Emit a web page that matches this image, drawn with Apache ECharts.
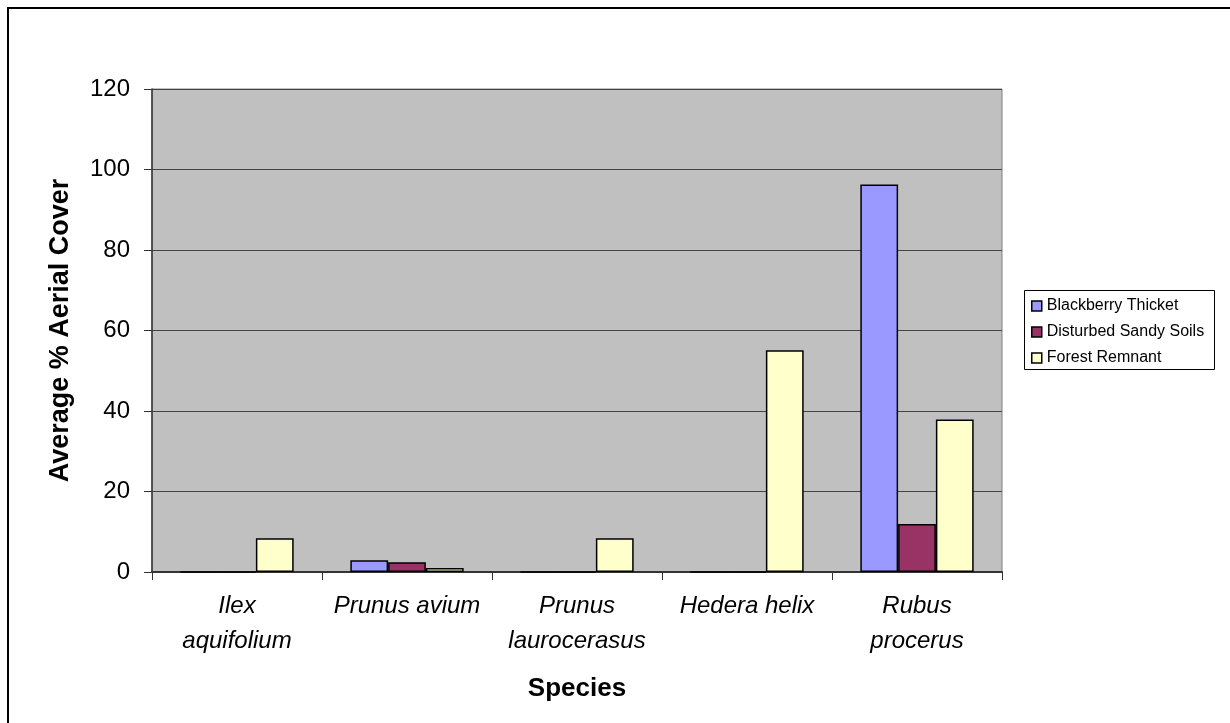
<!DOCTYPE html>
<html>
<head>
<meta charset="utf-8">
<script src="https://cdn.jsdelivr.net/npm/echarts@6/dist/echarts.min.js"></script>
<style>
  html, body { margin: 0; padding: 0; background: #fff; }
  #chart { width: 1230px; height: 723px; }
</style>
</head>
<body>
<div id="chart"></div>
<script>
// Species along the x axis
const species = ['Ilex\naquifolium', 'Prunus avium', 'Prunus\nlaurocerasus', 'Hedera helix', 'Rubus\nprocerus'];

// Average % aerial cover per habitat type
const blackberryThicket = [0, 2.9, 0, 0, 96.3];
const disturbedSandySoils = [0, 2.4, 0, 0, 11.9];
const forestRemnant = [8.4, 1.0, 8.4, 55.1, 37.9];

const seriesNames = ['Blackberry Thicket', 'Disturbed Sandy Soils', 'Forest Remnant'];
const seriesColors = ['#9999FF', '#993366', '#FFFFCC'];

const FONT = '"Liberation Sans", Arial, Helvetica, sans-serif';

const chart = echarts.init(document.getElementById('chart'));

function barSeries(name, data, color) {
  return {
    name: name,
    type: 'bar',
    data: data,
    barGap: '0%',
    barCategoryGap: '33.33%',
    itemStyle: { color: color, borderColor: '#000', borderWidth: 1.5 },
    emphasis: { disabled: true }
  };
}

chart.setOption({
  animation: false,
  backgroundColor: '#fff',
  grid: {
    left: 152, top: 89, right: 228, bottom: 151,
    show: true,
    backgroundColor: '#C0C0C0',
    borderColor: '#808080',
    borderWidth: 1
  },
  legend: {
    orient: 'vertical',
    left: 1031,
    top: 298,
    padding: 0,
    itemWidth: 10,
    itemHeight: 10,
    itemGap: 10,
    icon: 'rect',
    selectedMode: false,
    itemStyle: { borderColor: '#000', borderWidth: 1.5 },
    textStyle: { fontFamily: FONT, fontSize: 16, color: '#000', lineHeight: 16 },
    data: seriesNames
  },
  xAxis: {
    type: 'category',
    data: species,
    name: 'Species',
    nameLocation: 'middle',
    nameGap: 104,
    nameTextStyle: { fontFamily: FONT, fontSize: 26, fontWeight: 'bold', color: '#000' },
    axisLine: { show: true, lineStyle: { color: '#333', width: 2 } },
    axisTick: { show: true, alignWithLabel: false, length: 8, lineStyle: { color: '#333' } },
    axisLabel: {
      interval: 0,
      margin: 17,
      fontFamily: FONT,
      fontSize: 24,
      fontStyle: 'italic',
      lineHeight: 35,
      color: '#000'
    }
  },
  yAxis: {
    type: 'value',
    min: 0,
    max: 120,
    interval: 20,
    name: 'Average % Aerial Cover',
    nameLocation: 'middle',
    nameGap: 78,
    nameTextStyle: { fontFamily: FONT, fontSize: 27, fontWeight: 'bold', color: '#000' },
    axisLine: { show: true, lineStyle: { color: '#333', width: 1.5 } },
    axisTick: { show: true, length: 8, lineStyle: { color: '#333' } },
    axisLabel: { margin: 22, fontFamily: FONT, fontSize: 24, color: '#000' },
    splitLine: { show: true, lineStyle: { color: '#444', width: 1 } }
  },
  graphic: [
    {
      type: 'rect',
      shape: { x: 8, y: 8, width: 1240, height: 740 },
      style: { fill: 'none', stroke: '#000', lineWidth: 2 },
      silent: true
    },
    {
      type: 'rect',
      shape: { x: 1024.5, y: 290.5, width: 190, height: 79 },
      style: { fill: 'none', stroke: '#000', lineWidth: 1 },
      silent: true
    }
  ],
  series: [
    barSeries(seriesNames[0], blackberryThicket, seriesColors[0]),
    barSeries(seriesNames[1], disturbedSandySoils, seriesColors[1]),
    barSeries(seriesNames[2], forestRemnant, seriesColors[2])
  ]
});
</script>
</body>
</html>
